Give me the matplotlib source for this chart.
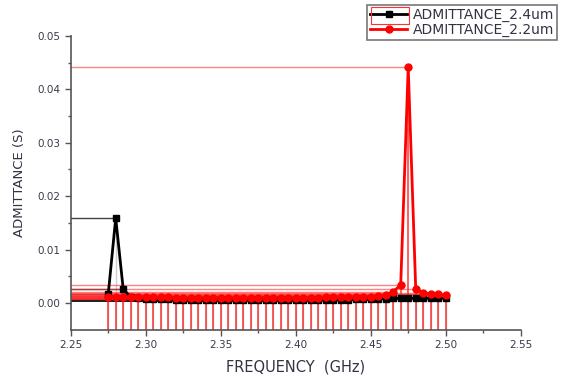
import matplotlib
matplotlib.use("Agg")
import matplotlib.pyplot as plt
from matplotlib.patches import Rectangle
import numpy as np

plt.rcParams['font.family'] = ['DejaVu Sans']

freq = [2.275, 2.280, 2.285, 2.290, 2.295, 2.300, 2.305, 2.310, 2.315, 2.320,
        2.325, 2.330, 2.335, 2.340, 2.345, 2.350, 2.355, 2.360, 2.365, 2.370,
        2.375, 2.380, 2.385, 2.390, 2.395, 2.400, 2.405, 2.410, 2.415, 2.420,
        2.425, 2.430, 2.435, 2.440, 2.445, 2.450, 2.455, 2.460, 2.465, 2.470,
        2.475, 2.480, 2.485, 2.490, 2.495, 2.500]

adm_24 = [0.0016, 0.0159, 0.0026, 0.0011, 0.0009, 0.0008, 0.0008, 0.0007, 0.0007, 0.0006,
          0.0006, 0.0006, 0.0006, 0.0006, 0.0006, 0.0006, 0.0006, 0.0006, 0.0006, 0.0006,
          0.0006, 0.0006, 0.0006, 0.0006, 0.0006, 0.0006, 0.0006, 0.0006, 0.0006, 0.0006,
          0.0006, 0.0006, 0.0006, 0.0007, 0.0007, 0.0007, 0.0008, 0.0008, 0.0009, 0.0009,
          0.0009, 0.0009, 0.0009, 0.0009, 0.0009, 0.0009]

adm_22 = [0.0012, 0.0012, 0.0012, 0.0011, 0.0011, 0.0011, 0.0011, 0.0011, 0.0011, 0.0010,
          0.0010, 0.0010, 0.0010, 0.0010, 0.0010, 0.0010, 0.0010, 0.0010, 0.0010, 0.0010,
          0.0010, 0.0010, 0.0010, 0.0010, 0.0010, 0.0010, 0.0010, 0.0010, 0.0010, 0.0011,
          0.0011, 0.0011, 0.0011, 0.0012, 0.0012, 0.0012, 0.0013, 0.0015, 0.0021, 0.0034,
          0.0442, 0.0027, 0.0019, 0.0017, 0.0016, 0.0015]

labels = ["ADMITTANCE_2.4um", "ADMITTANCE_2.2um"]
xticks = [2.25, 2.30, 2.35, 2.40, 2.45, 2.50, 2.55]
yticks = [0.00, 0.01, 0.02, 0.03, 0.04, 0.05]

fig = plt.figure(figsize=(5.82, 3.76), dpi=100)
ax = fig.add_axes([0.1215, 0.1231, 0.7732, 0.7812])
xmin, xmax = 2.25, 2.55
ymin, ymax = -0.005, 0.05
ax.set_xlim(xmin, xmax)
ax.set_ylim(ymin, ymax)

# drop lines for black series
for x, y in zip(freq, adm_24):
    ax.plot([xmin, x], [y, y], color='#222222', lw=1.0, alpha=0.85, zorder=1)
    ax.plot([x, x], [ymin, y], color='#888888', lw=1.0, alpha=0.4, zorder=1)
ax.plot(freq, adm_24, color='black', lw=2.0, marker='s', ms=4, zorder=3,
        label=labels[0])

# drop lines for red series
for x, y in zip(freq, adm_22):
    ax.plot([xmin, x], [y, y], color='#ff3030', lw=1.0, alpha=0.6, zorder=2)
    ax.plot([x, x], [ymin, y], color='#ff1a1a', lw=1.3, alpha=0.75, zorder=2)
ax.plot(freq, adm_22, color='#ff0000', lw=2.0, marker='o', ms=5, zorder=4,
        label=labels[1])

tick_color = '#3a3a4a'
ax.set_xticks(xticks)
ax.set_xticklabels([f"{t:.2f}" for t in xticks])
ax.set_yticks(yticks)
ax.set_yticklabels([f"{t:.2f}" for t in yticks])
ax.set_xticks(np.arange(2.275, 2.55, 0.05), minor=True)
ax.set_yticks(np.arange(0.005, 0.05, 0.01), minor=True)
ax.tick_params(axis='both', which='major', direction='out', length=4, width=1,
               color='#555555', labelsize=7.5, labelcolor=tick_color)
ax.tick_params(axis='both', which='minor', direction='out', length=2.5, width=1,
               color='#555555')
for s in ['top', 'right']:
    ax.spines[s].set_visible(False)
for s in ['left', 'bottom']:
    ax.spines[s].set_color('#555555')
    ax.spines[s].set_linewidth(1.2)
ax.spines['left'].set_bounds(ymin, ymax)

ax.set_xlabel("FREQUENCY  (GHz)", fontsize=10.5, color='#333344', labelpad=7)
ax.set_ylabel("ADMITTANCE (S)", fontsize=9.5, color='#333344', labelpad=8)

leg = fig.legend(loc='upper left', bbox_to_anchor=(367 / 582, 1 - 5 / 376),
                 fontsize=10, frameon=True, fancybox=False, edgecolor='#555555',
                 handlelength=2.7, borderpad=0.2, labelspacing=0.1,
                 handletextpad=0.4, borderaxespad=0)
leg.get_frame().set_linewidth(1.2)
for t in leg.get_texts():
    t.set_color('#333344')

sel = Rectangle((371 / 582, 1 - 24 / 376), 38 / 582, 17 / 376,
                transform=fig.transFigure, fill=False,
                edgecolor='#ff3030', lw=0.8, zorder=20)
fig.add_artist(sel)

fig.savefig("out.png", dpi=100)
